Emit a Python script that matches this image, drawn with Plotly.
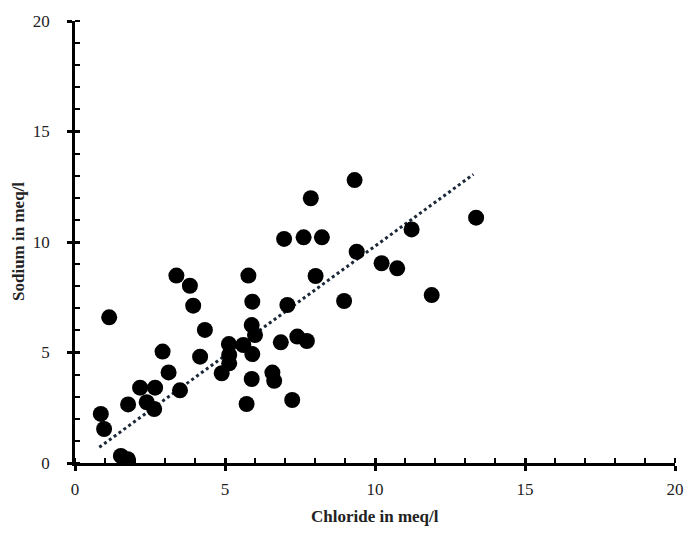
import plotly.graph_objects as go

chloride = [1.14, 0.86, 0.97, 1.53, 1.76, 1.77, 2.17, 2.67, 2.39, 2.64,
            2.92, 3.12, 3.38, 3.50, 3.83, 3.94, 4.17, 4.33, 4.89, 5.13,
            5.14, 5.14, 5.61, 5.78, 5.72, 5.91, 5.89, 6.00, 5.91, 5.89,
            6.58, 6.64, 6.86, 6.97, 7.08, 7.24, 7.41, 7.73, 7.62, 8.02,
            8.23, 8.97, 9.39, 9.32, 7.86, 10.22, 10.74, 11.22, 13.37, 11.89]
sodium = [6.59, 2.22, 1.54, 0.32, 0.17, 2.65, 3.41, 3.41, 2.75, 2.44,
          5.04, 4.10, 8.48, 3.29, 8.02, 7.12, 4.81, 6.02, 4.06, 5.38,
          4.89, 4.51, 5.34, 8.48, 2.67, 7.30, 6.24, 5.79, 4.93, 3.80,
          4.09, 3.72, 5.46, 10.14, 7.15, 2.85, 5.72, 5.52, 10.21, 8.46,
          10.21, 7.33, 9.56, 12.80, 11.98, 9.04, 8.81, 10.57, 11.10, 7.60]

# trend line end points
trend_x = [0.81, 13.28]
trend_y = [0.71, 13.06]

x_title = "Chloride in meq/l"
y_title = "Sodium in meq/l"

font = "Liberation Serif, Times New Roman, serif"

fig = go.Figure()
fig.add_trace(go.Scatter(x=trend_x, y=trend_y, mode="lines",
                         line=dict(color="#1b2838", width=3, dash="dot"),
                         showlegend=False, hoverinfo="skip"))
fig.add_trace(go.Scatter(x=chloride, y=sodium, mode="markers",
                         marker=dict(color="black", size=16),
                         showlegend=False))
# overlay axes for inner half of major ticks
fig.add_trace(go.Scatter(x=[None], y=[None], xaxis="x2", yaxis="y2", showlegend=False))

axis_common = dict(range=[0, 20], dtick=5, tick0=0, showgrid=False, zeroline=False,
                   automargin=False,
                   showline=True, linecolor="black", linewidth=2.5,
                   ticks="outside", ticklen=5, tickwidth=2.5, tickcolor="black",
                   tickfont=dict(family=font, size=17, color="#222"),
                   minor=dict(dtick=1, ticks="inside", ticklen=5, tickwidth=2, tickcolor="black"))

fig.update_layout(
    width=687, height=535,
    margin=dict(l=75, r=12, t=21, b=72),
    plot_bgcolor="white", paper_bgcolor="white",
    xaxis=dict(**axis_common, ticklabelstandoff=4),
    yaxis=dict(**axis_common, ticklabelstandoff=14),
    xaxis2=dict(range=[0, 20], dtick=5, tick0=0, overlaying="x", side="bottom", showgrid=False,
                zeroline=False, showticklabels=False, ticks="inside", ticklen=5, tickwidth=2.5,
                tickcolor="black", showline=False, automargin=False),
    yaxis2=dict(range=[0, 20], dtick=5, tick0=0, overlaying="y", side="left", showgrid=False,
                zeroline=False, showticklabels=False, ticks="inside", ticklen=5, tickwidth=2.5,
                tickcolor="black", showline=False, automargin=False),
    annotations=[
        dict(text="<b>" + x_title + "</b>", xref="paper", yref="paper", x=0.5, y=-0.122,
             xanchor="center", yanchor="middle", showarrow=False,
             font=dict(family=font, size=17, color="#222")),
        dict(text="<b>" + y_title + "</b>", xref="paper", yref="paper", x=-0.095, y=0.5,
             xanchor="center", yanchor="middle", showarrow=False, textangle=-90,
             font=dict(family=font, size=17, color="#222")),
    ],
)
fig.write_html("out.html", config={"displayModeBar": False},
               post_script="document.body.style.margin='0';document.body.style.overflow='hidden';")
